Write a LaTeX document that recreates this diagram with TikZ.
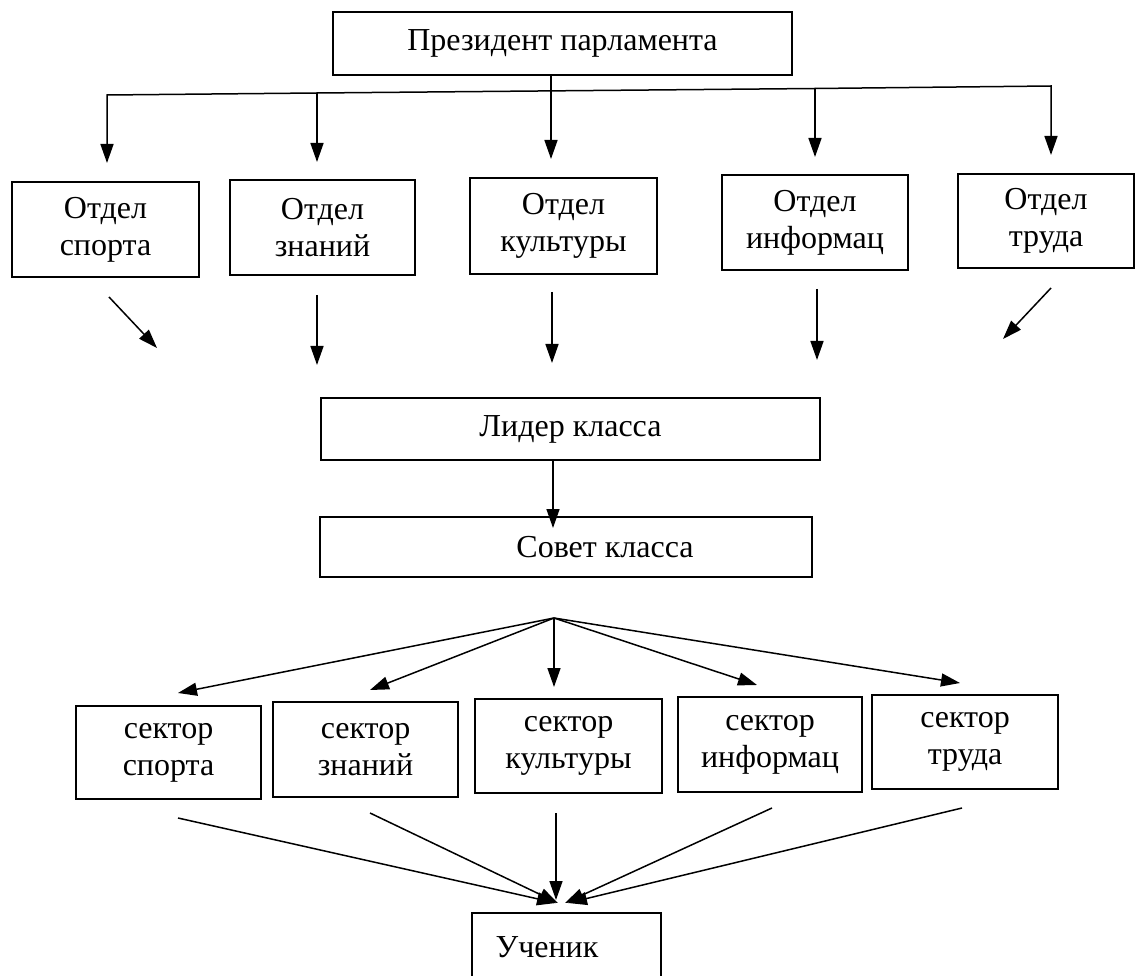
\documentclass[tikz,border=0pt]{standalone}
\usepackage{fontspec}
\setmainfont{Liberation Serif}
\usetikzlibrary{arrows.meta}
\begin{document}
\begin{tikzpicture}[x=1pt,y=-1pt,
  box/.style={draw, line width=1.6pt, rectangle, inner sep=0pt, align=center, font=\fontsize{32}{37}\selectfont},
  txt/.style={inner sep=0pt, font=\fontsize{32}{37}\selectfont},
  ln/.style={line width=1.5pt, line join=miter},
  arr/.style={line width=1.5pt, line join=miter, -{Triangle[length=19pt,width=13pt]}}]
\fill[white] (0,0) rectangle (1136,976);
\useasboundingbox (0,0) rectangle (1136,976);

% top
\node[box, minimum width=459pt, minimum height=63pt] (pres) at (562.5,43.5) {Президент парламента};

\node[box, minimum width=187pt, minimum height=95pt] (d1) at (105.5,229.5) {Отдел\\спорта};
\node[box, minimum width=185pt, minimum height=95pt] (d2) at (322.5,227.5) {Отдел\\знаний};
\node[box, minimum width=187pt, minimum height=96pt] (d3) at (563.5,226) {Отдел\\культуры};
\node[box, minimum width=186pt, minimum height=95pt] (d4) at (815,222.5) {Отдел\\информац};
\node[box, minimum width=176pt, minimum height=94pt] (d5) at (1046,221) {Отдел\\труда};

% bus
\coordinate (b1) at (107,95);
\coordinate (b2) at (317,93);
\coordinate (b3) at (551,91);
\coordinate (b4) at (815,88.5);
\coordinate (b5) at (1051,86);
\coordinate (t1) at (107,163);
\coordinate (t2) at (317,162);
\coordinate (t3) at (551,159);
\coordinate (t4) at (815,157);
\coordinate (t5) at (1051,155);
\draw[ln] (pres.south -| b3) -- (b3);
\draw[ln] (b2) -- (b4);
\draw[arr] (b2) -- (b1) -- (t1);
\draw[arr] (b4) -- (b5) -- (t5);
\draw[arr] (b2) -- (t2);
\draw[arr] (b3) -- (t3);
\draw[arr] (b4) -- (t4);

% arrows below departments
\coordinate (u1) at (109,297);  \coordinate (v1) at (157,348);
\coordinate (u2) at (317,295);  \coordinate (v2) at (317,365);
\coordinate (u3) at (552,292);  \coordinate (v3) at (552,363);
\coordinate (u4) at (817,289);  \coordinate (v4) at (817,360);
\coordinate (u5) at (1051,288); \coordinate (v5) at (1003,339);
\foreach \i in {1,...,5} \draw[arr] (u\i) -- (v\i);

% leader and council
\node[box, minimum width=499pt, minimum height=62pt] (lid) at (570.5,429) {Лидер класса};
\node[box, minimum width=492pt, minimum height=60pt] (sov) at (566,547) {};
\node[txt] (sovt) at (605,547) {Совет класса};
\coordinate (ls) at (553,460);
\coordinate (st) at (553,528);
\draw[arr] (ls) -- (st);

% sectors
\node[box, minimum width=185pt, minimum height=93pt] (s1) at (168.5,752.5) {сектор\\спорта};
\node[box, minimum width=185pt, minimum height=95pt] (s2) at (365.5,749.5) {сектор\\знаний};
\node[box, minimum width=187pt, minimum height=94pt] (s3) at (568.5,746) {сектор\\культуры};
\node[box, minimum width=184pt, minimum height=95pt] (s4) at (770,744.5) {сектор\\информац};
\node[box, minimum width=186pt, minimum height=94pt] (s5) at (965,742) {сектор\\труда};

% fan
\coordinate (f) at (554,618);
\coordinate (g1) at (178,693);
\coordinate (g2) at (370,690);
\coordinate (g3) at (554,687);
\coordinate (g4) at (757,685);
\coordinate (g5) at (960,683);
\foreach \i in {1,...,5} \draw[arr] (f) -- (g\i);

% pupil
\node[box, minimum width=189pt, minimum height=97pt] (uch) at (566.5,961.5) {};
\node[txt] (ucht) at (547,947) {Ученик};

\coordinate (p1) at (178,818);  \coordinate (q1) at (556,903);
\coordinate (p2) at (370,813);  \coordinate (q2) at (558,903);
\coordinate (p3) at (556,813);  \coordinate (q3) at (556,900);
\coordinate (p4) at (772,808);  \coordinate (q4) at (565,903);
\coordinate (p5) at (962,808);  \coordinate (q5) at (568,903);
\foreach \i in {1,...,5} \draw[arr] (p\i) -- (q\i);
\end{tikzpicture}
\end{document}
